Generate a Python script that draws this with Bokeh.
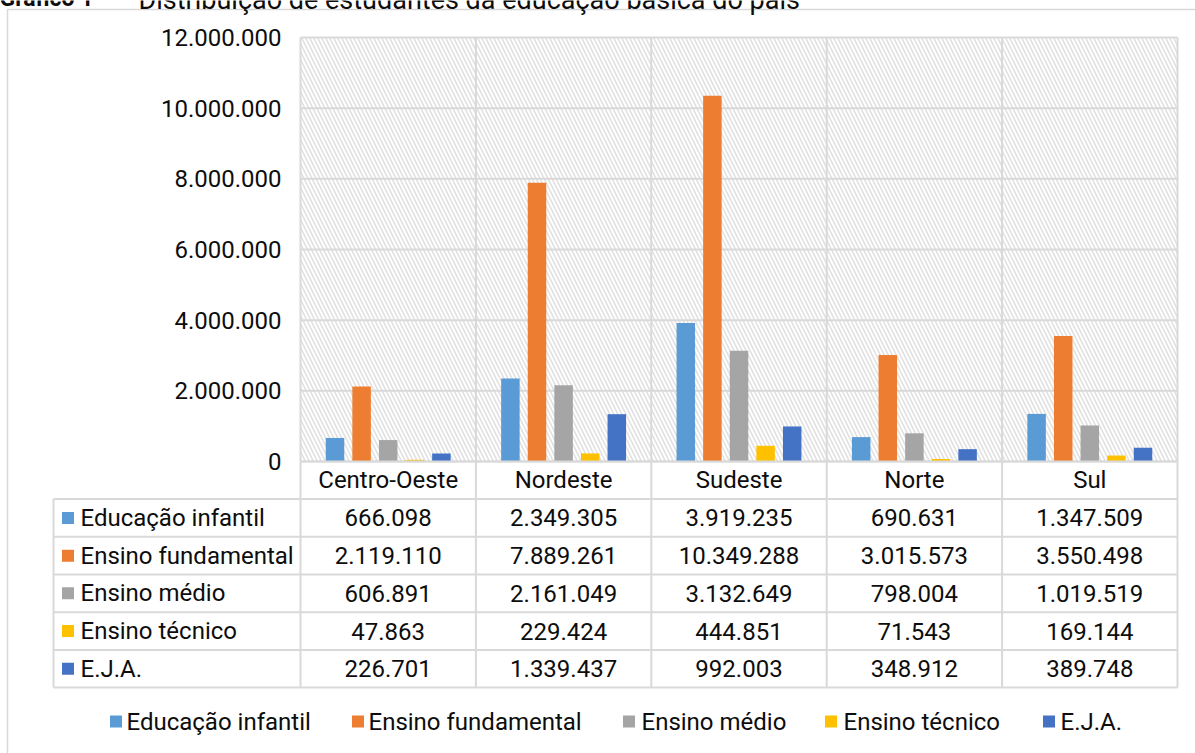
from bokeh.plotting import figure
from bokeh.models import Range1d
from bokeh.core.properties import value
from bokeh.embed import file_html
from bokeh.resources import INLINE

# ---------------- data ----------------
categories = ["Centro-Oeste", "Nordeste", "Sudeste", "Norte", "Sul"]
series_names = ["Educação infantil", "Ensino fundamental", "Ensino médio", "Ensino técnico", "E.J.A."]
educacao_infantil = [666098, 2349305, 3919235, 690631, 1347509]
ensino_fundamental = [2119110, 7889261, 10349288, 3015573, 3550498]
ensino_medio = [606891, 2161049, 3132649, 798004, 1019519]
ensino_tecnico = [47863, 229424, 444851, 71543, 169144]
eja = [226701, 1339437, 992003, 348912, 389748]
y_ticks = [0, 2000000, 4000000, 6000000, 8000000, 10000000, 12000000]
title_parts = ["Gráfico 1", "–", "Distribuição de estudantes da educação básica do país"]

series_values = [educacao_infantil, ensino_fundamental, ensino_medio, ensino_tecnico, eja]
colors = ["#5B9BD5", "#ED7D31", "#A5A5A5", "#FFC000", "#4472C4"]

W, H = 1195, 753
X0, X1 = 300.0, 1177.0          # plot area left/right (px)
Y0, YTOP = 461.0, 37.0          # pixel of 0 and 12M
NCAT = len(categories)
UX = (X1 - X0) / NCAT           # px per category
UY = (Y0 - YTOP) / 12e6         # px per unit value


def px(xp):
    return (xp - X0) / UX


def py(yp):
    return (Y0 - yp) / UY


def fmt(v):
    return f"{v:,}".replace(",", ".")


FONT = value("Roboto")
TXT = "#0d0d0d"
GRID = "#d9d9d9"

p = figure(width=W, height=H, output_backend="svg", toolbar_location=None,
           x_range=Range1d(px(0), px(W)), y_range=Range1d(py(H), py(0)),
           x_axis_location=None, y_axis_location=None,
           min_border=0, min_border_left=0, min_border_right=0,
           min_border_top=0, min_border_bottom=0)
p.outline_line_color = None
p.grid.visible = False
p.background_fill_color = "white"
p.border_fill_color = "white"

# outer chart border
p.line([px(7), px(7), px(W + 5)], [py(H + 5), py(9), py(9)], line_color=GRID, line_width=1.5)

# title (partially cut off at the top, as in the reference)
TY = py(-1)
p.text(x=[px(-1)], y=[py(-2.5)], text=[title_parts[0]], text_font=FONT, text_font_size="23px",
       text_font_style="bold", text_color=TXT, text_baseline="alphabetic", text_align="left")
p.text(x=[px(100)], y=[TY], text=[title_parts[1]], text_font=FONT, text_font_size="27px",
       text_color=TXT, text_baseline="alphabetic", text_align="left")
p.text(x=[px(138)], y=[TY], text=[title_parts[2]], text_font=FONT, text_font_size="27px",
       text_color=TXT, text_baseline="alphabetic", text_align="left")

# hatched plot area
p.quad(left=[0], right=[NCAT], bottom=[0], top=[y_ticks[-1]], fill_color="white",
       line_color=None, hatch_pattern="left_diagonal_line", hatch_color="#e0e0e0",
       hatch_scale=8, hatch_weight=1.5)

# gridlines
p.segment(x0=[0] * len(y_ticks), x1=[NCAT] * len(y_ticks), y0=y_ticks, y1=y_ticks,
          line_color=GRID, line_width=2)
p.segment(x0=list(range(NCAT + 1)), x1=list(range(NCAT + 1)),
          y0=[0] * (NCAT + 1), y1=[y_ticks[-1]] * (NCAT + 1), line_color=GRID, line_width=2)

# y tick labels
p.text(x=[px(281)] * len(y_ticks), y=y_ticks, text=[fmt(t) for t in y_ticks], text_font=FONT,
       text_font_size="24px", text_color=TXT, text_align="right", text_baseline="middle")

# bars
bar_w = 18.5 / UX
step = 26.6 / UX
centers = [i + 0.5 for i in range(NCAT)]
for k, (vals, col) in enumerate(zip(series_values, colors)):
    off = (k - 2) * step
    p.vbar(x=[c + off for c in centers], top=vals, bottom=0, width=bar_w,
           fill_color=col, line_color=None)

# ---------------- data table ----------------
row_lines = [461, 498.6, 536.3, 574.0, 611.7, 649.4, 687.0]
TL = 53
# vertical lines
p.segment(x0=list(range(NCAT + 1)), x1=list(range(NCAT + 1)),
          y0=[py(row_lines[0])] * (NCAT + 1), y1=[py(row_lines[-1])] * (NCAT + 1),
          line_color=GRID, line_width=2)
p.segment(x0=[px(TL)], x1=[px(TL)], y0=[py(row_lines[1])], y1=[py(row_lines[-1])],
          line_color=GRID, line_width=2)
# horizontal lines
p.segment(x0=[px(TL)] * (len(row_lines) - 1), x1=[NCAT] * (len(row_lines) - 1),
          y0=[py(r) for r in row_lines[1:]], y1=[py(r) for r in row_lines[1:]],
          line_color=GRID, line_width=2)
p.segment(x0=[0], x1=[NCAT], y0=[0], y1=[0], line_color=GRID, line_width=2)

row_centers = [(row_lines[i] + row_lines[i + 1]) / 2 for i in range(len(row_lines) - 1)]

# header: category names
p.text(x=centers, y=[py(row_centers[0])] * NCAT, text=categories, text_font=FONT,
       text_font_size="24px", text_color=TXT, text_align="center", text_baseline="middle")

for k, (name, vals, col) in enumerate(zip(series_names, series_values, colors)):
    yc = py(row_centers[k + 1])
    p.scatter(x=[px(67.5)], y=[yc], marker="square", size=12, fill_color=col, line_color=None)
    p.text(x=[px(80)], y=[yc], text=[name], text_font=FONT, text_font_size="24px",
           text_color=TXT, text_align="left", text_baseline="middle")
    p.text(x=centers, y=[yc] * NCAT, text=[fmt(v) for v in vals], text_font=FONT,
           text_font_size="24px", text_color=TXT, text_align="center", text_baseline="middle")

# ---------------- legend ----------------
leg_sq = [115.5, 357.5, 628.5, 830.5, 1048.5]
leg_tx = [126, 368, 641, 843, 1060]
LY = 721
for name, col, sx, tx in zip(series_names, colors, leg_sq, leg_tx):
    p.scatter(x=[px(sx)], y=[py(LY)], marker="square", size=12, fill_color=col, line_color=None)
    p.text(x=[px(tx)], y=[py(LY)], text=[name], text_font=FONT, text_font_size="24px",
           text_color=TXT, text_align="left", text_baseline="middle")

open("out.html", "w").write(file_html(p, INLINE))
